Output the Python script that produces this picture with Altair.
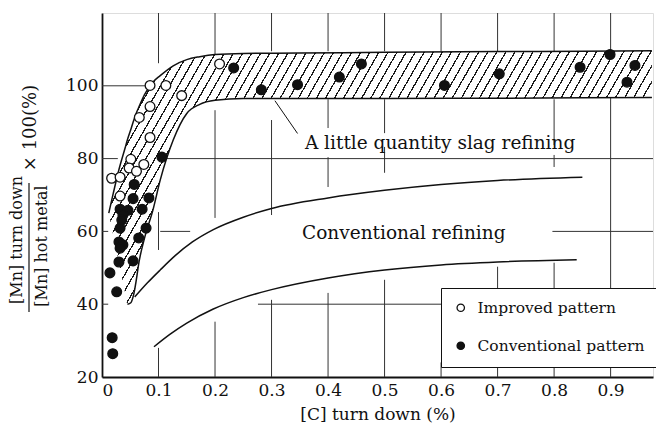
import altair as alt
import pandas as pd

FONT = "DejaVu Serif"
INK = "#111111"

# ---------------- data ----------------
# Improved pattern (open circles)
imp_x = [0.085, 0.113, 0.141, 0.208, 0.085, 0.066, 0.085, 0.051, 0.074, 0.048, 0.061, 0.017, 0.032, 0.032]
imp_y = [100.1, 100.1, 97.3, 106.0, 94.3, 91.3, 85.8, 79.8, 78.4, 77.4, 76.5, 74.6, 74.9, 69.7]

# Conventional pattern (filled circles)
con_x = [0.233, 0.282, 0.346, 0.420, 0.459, 0.606, 0.703, 0.846, 0.899, 0.943, 0.929, 0.106,
         0.057, 0.055, 0.083, 0.032, 0.046, 0.071, 0.037, 0.035, 0.032, 0.078, 0.065, 0.030,
         0.037, 0.032, 0.030, 0.055, 0.014, 0.026, 0.018, 0.019]
con_y = [104.9, 98.9, 100.3, 102.4, 106.0, 100.1, 103.3, 105.1, 108.6, 105.6, 101.0, 80.4,
         72.9, 69.0, 69.2, 66.1, 65.8, 66.1, 64.5, 63.1, 60.9, 60.9, 58.2, 57.1,
         56.3, 55.4, 51.6, 51.9, 48.6, 43.4, 30.8, 26.4]

# "A little quantity slag refining" band
band_x = [0.012, 0.02, 0.03, 0.041, 0.045, 0.051, 0.055, 0.062, 0.064, 0.075, 0.09, 0.103,
          0.126, 0.15, 0.173, 0.2, 0.25, 0.35, 0.5, 0.7, 0.85, 0.973]
band_top = [65.0, 70.5, 77.0, 83.0, 85.2, 88.0, 90.0, 93.0, 93.7, 97.5, 101.0, 102.8,
            105.5, 107.2, 108.0, 108.6, 108.9, 109.0, 109.2, 109.4, 109.5, 109.6]
band_bottom = [65.0, 58.9, 51.4, 43.0, 40.0, 40.4, 42.0, 48.0, 50.2, 58.0, 65.8, 74.1,
               85.1, 92.4, 94.9, 96.0, 96.5, 96.5, 96.5, 96.6, 96.7, 96.8]
LOWER_START = 4  # the drawn lower edge starts at the apex

# Conventional refining curves
cu_x = [0.058, 0.08, 0.103, 0.13, 0.16, 0.197, 0.25, 0.3, 0.4, 0.5, 0.6, 0.7, 0.85]
cu_y = [42.0, 45.8, 49.4, 53.4, 57.1, 60.5, 63.9, 66.3, 69.2, 71.3, 72.9, 74.0, 74.9]
cl_x = [0.092, 0.12, 0.15, 0.196, 0.25, 0.3, 0.4, 0.5, 0.6, 0.7, 0.84]
cl_y = [28.3, 31.7, 34.8, 38.6, 41.8, 44.0, 47.2, 49.4, 50.8, 51.6, 52.2]

# leader line from band to its label
lead_x = [0.306, 0.346]
lead_y = [95.9, 86.9]

# broken grid of the printed figure: vertical pieces (x, from, to)
vg_x = [0.1, 0.1, 0.1, 0.2, 0.2, 0.2, 0.3, 0.3, 0.3, 0.4, 0.4, 0.4, 0.4,
        0.5, 0.5, 0.5, 0.5, 0.6, 0.6, 0.7, 0.7, 0.8, 0.8, 0.8, 0.8, 0.9]
vg_a = [120, 65.3, 28.0, 120, 93.3, 35.2, 120, 90.6, 41.2, 120, 96.3, 80.4, 43.1,
        120, 96.3, 83.2, 46.7, 120, 24.0, 120, 50.3, 120, 96.3, 81.0, 51.4, 120]
vg_b = [106.2, 54.9, 20, 108.2, 63.7, 20, 109.5, 64.5, 20, 109.5, 88.4, 72.2, 20,
        109.5, 87.0, 76.1, 20, 109.5, 20, 109.5, 20, 109.5, 83.7, 77.7, 20, 20]
# horizontal pieces (y, from, to)
hg_y = [100, 80, 80, 60, 60, 60, 40, 40]
hg_a = [0, 0, 0.115, 0, 0.103, 0.797, 0, 0.276]
hg_b = [0.085, 0.028, 0.975, 0.011, 0.156, 0.975, 0.011, 0.6]

x_ticks = [0, 0.1, 0.2, 0.3, 0.4, 0.5, 0.6, 0.7, 0.8, 0.9]
y_ticks = [20, 40, 60, 80, 100]
X_DOM = [0, 0.975]
Y_DOM = [20, 120]

# ---------------- tables ----------------
pts = pd.DataFrame({
    "x": imp_x + con_x,
    "y": imp_y + con_y,
    "pattern": ["Improved pattern"] * len(imp_x) + ["Conventional pattern"] * len(con_x),
})
band = pd.DataFrame({"x": band_x, "top": band_top, "bottom": band_bottom})
lines = pd.concat([
    pd.DataFrame({"x": band_x, "y": band_top, "id": "band_top"}),
    pd.DataFrame({"x": band_x[LOWER_START:], "y": band_bottom[LOWER_START:], "id": "band_bottom"}),
    pd.DataFrame({"x": cu_x, "y": cu_y, "id": "conv_upper"}),
    pd.DataFrame({"x": cl_x, "y": cl_y, "id": "conv_lower"}),
], ignore_index=True)
lead = pd.DataFrame({"x": [lead_x[0]], "x2": [lead_x[1]], "y": [lead_y[0]], "y2": [lead_y[1]]})
vg = pd.DataFrame({"x": vg_x, "a": vg_a, "b": vg_b})
hg = pd.DataFrame({"y": hg_y, "a": hg_a, "b": hg_b})
notes = pd.DataFrame({
    "x": [0.359, 0.354],
    "y": [82.6, 57.9],
    "t": ["A little quantity slag refining", "Conventional refining"],
})

xs = alt.Scale(domain=X_DOM, nice=False, zero=False)
ys = alt.Scale(domain=Y_DOM, nice=False, zero=False)

XAX = alt.Axis(
    values=x_ticks, title="[C] turn down (%)", grid=False, ticks=False,
    labelExpr="datum.value == 0 ? '0' : format(datum.value, '.1f')",
    labelFont=FONT, labelFontSize=17, labelColor=INK, labelPadding=5,
    titleFont=FONT, titleFontSize=17, titleFontWeight="normal", titleColor=INK, titlePadding=8,
    domainColor=INK, domainWidth=1.8)
YAX = alt.Axis(
    values=y_ticks, title=None, grid=False, ticks=False,
    labelFont=FONT, labelFontSize=17, labelColor=INK, labelPadding=4,
    domainColor=INK, domainWidth=1.8)


def X(field):
    return alt.X(field, scale=xs, axis=XAX)


def Y(field):
    return alt.Y(field, scale=ys, axis=YAX)


# hatching as a striped gradient across the band
N = 76
p = 1.0 / N
stops = []
for k in range(N):
    a = round(k * p, 6)
    b = round(k * p + 0.84 * p, 6)
    c = min(1.0, round((k + 1) * p, 6))
    stops += [{"offset": a, "color": "white"}, {"offset": b, "color": "white"},
              {"offset": b, "color": "#1a1a1a"}, {"offset": c, "color": "#1a1a1a"}]
hatch = {"gradient": "linear", "x1": 0, "y1": 0, "x2": 1.1828, "y2": 0.3159, "stops": stops}

vgrid = alt.Chart(vg).mark_rule(color="#333333", strokeWidth=1).encode(
    x=X("x:Q"), y=Y("a:Q"), y2="b:Q")
hgrid = alt.Chart(hg).mark_rule(color="#333333", strokeWidth=1).encode(
    y=Y("y:Q"), x=X("a:Q"), x2="b:Q")

band_area = alt.Chart(band).mark_area(fill=hatch, interpolate="monotone").encode(
    x=X("x:Q"), y=Y("top:Q"), y2="bottom:Q")

curve = alt.Chart(lines).mark_line(color=INK, strokeWidth=1.5, interpolate="monotone").encode(
    x=X("x:Q"), y=Y("y:Q"), detail="id:N")

leader = alt.Chart(lead).mark_rule(color=INK, strokeWidth=1).encode(
    x=X("x:Q"), x2="x2:Q", y=Y("y:Q"), y2="y2:Q")

note_text = alt.Chart(notes).mark_text(font=FONT, fontSize=18.5, align="left",
                                       baseline="alphabetic", color=INK).encode(
    x=X("x:Q"), y=Y("y:Q"), text="t:N")

points = alt.Chart(pts).mark_point(filled=True, shape="circle", size=95, stroke=INK,
                                   strokeWidth=1.3, opacity=1).encode(
    x=X("x:Q"), y=Y("y:Q"),
    fill=alt.Fill("pattern:N",
                  scale=alt.Scale(domain=["Improved pattern", "Conventional pattern"],
                                  range=["white", INK]),
                  legend=alt.Legend(title=None, orient="none", legendX=339, legendY=275,
                                    direction="vertical", padding=12, rowPadding=21,
                                    strokeColor=INK, fillColor="white",
                                    symbolType="circle", symbolSize=55,
                                    symbolStrokeColor=INK, symbolStrokeWidth=1.3,
                                    labelFont=FONT, labelFontSize=15.5, labelColor=INK,
                                    labelOffset=9, labelLimit=300)))

# y-axis title written as a fraction
ynum = alt.Chart(pd.DataFrame({"t": ["[Mn] turn down"]})).mark_text(
    font=FONT, fontSize=16, angle=270, align="center", baseline="middle", color=INK).encode(
    x=alt.value(-85), y=alt.value(227), text="t:N")
yden = alt.Chart(pd.DataFrame({"t": ["[Mn] hot metal"]})).mark_text(
    font=FONT, fontSize=16, angle=270, align="center", baseline="middle", color=INK).encode(
    x=alt.value(-60), y=alt.value(233), text="t:N")
ymul = alt.Chart(pd.DataFrame({"t": ["× 100(%)"]})).mark_text(
    font=FONT, fontSize=18, angle=270, align="center", baseline="middle", color=INK).encode(
    x=alt.value(-71), y=alt.value(115), text="t:N")
ybar = alt.Chart(pd.DataFrame({"t": [1]})).mark_rule(color=INK, strokeWidth=1.2).encode(
    x=alt.value(-73), y=alt.value(170), y2=alt.value(299))

chart = alt.layer(vgrid, hgrid, band_area, curve, leader, note_text, points,
                  ynum, yden, ymul, ybar).properties(
    width=551, height=364,
    autosize=alt.AutoSizeParams(type="none"),
    padding={"left": 102, "top": 13, "right": 3, "bottom": 53},
).configure_view(stroke=INK, strokeWidth=1.2).configure(background="white")

chart.save("out.html", embed_options={"renderer": "svg", "actions": False})
